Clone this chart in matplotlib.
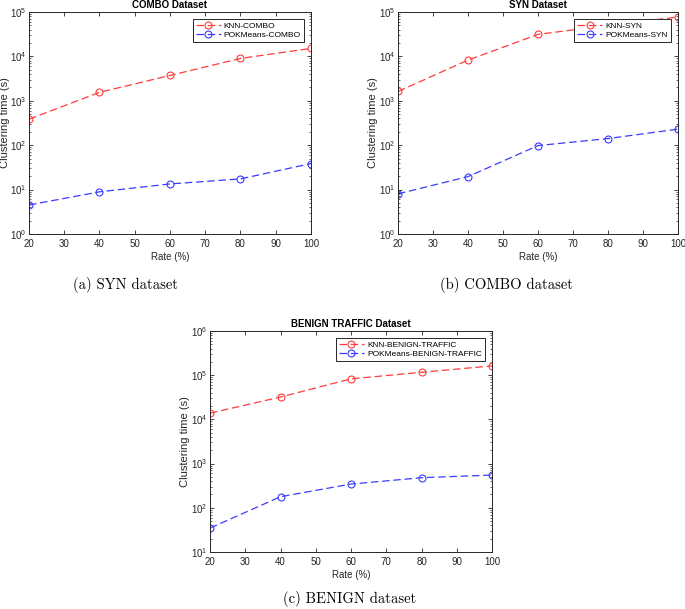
import numpy as np
import matplotlib
matplotlib.use("Agg")
import matplotlib.pyplot as plt
from matplotlib.ticker import LogLocator, NullFormatter

plt.rcParams["font.family"] = ["Liberation Sans", "DejaVu Sans"]
plt.rcParams["mathtext.fontset"] = "custom"
plt.rcParams["mathtext.rm"] = "Liberation Sans"

rate = [20, 40, 60, 80, 100]

# COMBO panel
knn_combo = [385, 1550, 3720, 9000, 15100]
pok_combo = [4.5, 8.9, 13.4, 17.4, 38.6]

# SYN panel
knn_syn = [1620, 8260, 31300, 50000, 77000]
pok_syn = [8.0, 19.6, 98, 141, 230]

# BENIGN TRAFFIC panel
knn_benign = [13800, 32000, 82400, 116000, 162000]
pok_benign = [34.8, 178, 344, 479, 550]

C_KNN, C_POK = "#ff3b3b", "#3b3bff"
AX_C = "#262626"

fig = plt.figure(figsize=(6.85, 6.09), dpi=100)

panels = [
    # rect, title, knn, pok, names, ylim, caption, caption pos, ylabel x
    ([0.0423, 0.6158, 0.4117, 0.3645], "COMBO Dataset", knn_combo, pok_combo,
     ("KNN-COMBO", "POKMeans-COMBO"), (1, 1e5), "(a) SYN dataset", (0.183, 0.519), -0.067),
    ([0.581, 0.6158, 0.4088, 0.3645], "SYN Dataset", knn_syn, pok_syn,
     ("KNN-SYN", "POKMeans-SYN"), (1, 1e5), "(b) COMBO dataset", (0.740, 0.519), -0.072),
    ([0.3066, 0.0936, 0.4117, 0.363], "BENIGN TRAFFIC Dataset", knn_benign, pok_benign,
     ("KNN-BENIGN-TRAFFIC", "POKMeans-BENIGN-TRAFFIC"), (10, 1e6), "(c) BENIGN dataset", (0.511, 0.003), -0.070),
]

for rect, title, knn, pok, names, ylim, cap, cpos, ylx in panels:
    ax = fig.add_axes(rect)
    ax.plot(rate, knn, "--o", color=C_KNN, lw=0.9, ms=5, mfc="none", mew=0.8,
            dashes=(6, 3), label=names[0])
    ax.plot(rate, pok, "--o", color=C_POK, lw=0.9, ms=5, mfc="none", mew=0.8,
            dashes=(6, 3), label=names[1])
    ax.set_yscale("log")
    ax.set_xlim(20, 100)
    ax.set_ylim(*ylim)
    ax.set_xticks(range(20, 101, 10))
    ax.yaxis.set_major_locator(LogLocator(base=10, numticks=10))
    ax.yaxis.set_minor_locator(LogLocator(base=10, subs=np.arange(2, 10), numticks=10))
    ax.yaxis.set_minor_formatter(NullFormatter())
    ax.tick_params(which="both", direction="in", top=True, right=True,
                   colors=AX_C, labelsize=7)
    ax.tick_params(axis="x", pad=3.5)
    ax.tick_params(axis="y", pad=2)
    ax.tick_params(which="major", length=3, width=0.6)
    ax.tick_params(which="minor", length=1.5, width=0.5)
    for s in ax.spines.values():
        s.set_color(AX_C)
        s.set_linewidth(0.7)
    ax.set_title(title, fontsize=7, fontweight="bold", color="black", pad=3)
    ax.set_xlabel("Rate (%)", fontsize=7, color=AX_C, labelpad=2.5)
    ax.set_ylabel("Clustering time (s)", fontsize=8, color=AX_C)
    ax.yaxis.set_label_coords(ylx, 0.5)
    leg = ax.legend(loc="upper right", fontsize=6, handlelength=3.0,
                    fancybox=False, framealpha=1, borderpad=0.35,
                    labelspacing=0.15, handletextpad=0.4, borderaxespad=0.85)
    leg.get_frame().set_edgecolor(AX_C)
    leg.get_frame().set_linewidth(0.7)
    fig.text(cpos[0], cpos[1], cap, ha="center", va="bottom",
             fontsize=10.5, family=["cmr10", "DejaVu Serif"])

fig.savefig("out.png", dpi=100)
